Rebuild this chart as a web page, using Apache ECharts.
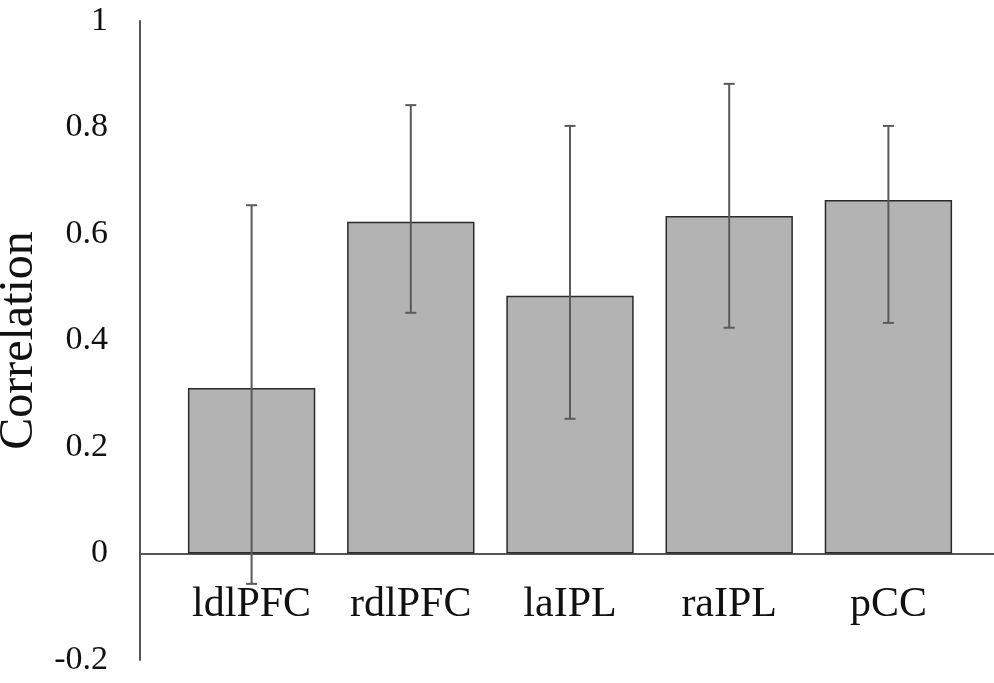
<!DOCTYPE html>
<html>
<head>
<meta charset="utf-8">
<script src="https://cdn.jsdelivr.net/npm/echarts@6/dist/echarts.min.js"></script>
<style>html,body{margin:0;padding:0;background:#fff;}#c{width:994px;height:683px;}</style>
</head>
<body>
<div id="c"></div>
<script>
const categories = ['ldlPFC', 'rdlPFC', 'laIPL', 'raIPL', 'pCC'];
const means = [0.311, 0.623, 0.484, 0.634, 0.664];
const errLow = [-0.057, 0.452, 0.253, 0.424, 0.433];
const errHigh = [0.654, 0.842, 0.803, 0.882, 0.803];
const yTicks = { min: -0.2, max: 1, interval: 0.2 };

const chart = echarts.init(document.getElementById('c'));
const serif = '"Liberation Serif", "DejaVu Serif", serif';
const errData = categories.map((c, i) => [i, errLow[i], errHigh[i]]);

chart.setOption({
  animation: false,
  grid: [
    { left: 140, right: 0, top: 21, bottom: 23, containLabel: false, outerBoundsMode: 'none' },
    { left: 172, right: 26, top: 21, bottom: 129.5, containLabel: false, outerBoundsMode: 'none' }
  ],
  xAxis: [
    { gridIndex: 0, type: 'value', min: 0, max: 1,
      axisLine: { show: true, onZero: true, lineStyle: { color: '#555', width: 2 } },
      axisTick: { show: false }, axisLabel: { show: false }, splitLine: { show: false } },
    { gridIndex: 1, type: 'category', data: categories,
      axisLine: { show: false }, axisTick: { show: false },
      axisLabel: { fontFamily: serif, fontSize: 42, color: '#111', margin: 30 } }
  ],
  yAxis: [
    { gridIndex: 0, type: 'value', min: yTicks.min, max: yTicks.max, interval: yTicks.interval,
      name: 'Correlation', nameLocation: 'middle', nameGap: 86, nameRotate: 90,
      nameTextStyle: { fontFamily: serif, fontSize: 48, color: '#111' },
      axisLine: { show: true, lineStyle: { color: '#555', width: 2 } },
      axisTick: { show: false }, splitLine: { show: false },
      axisLabel: { fontFamily: serif, fontSize: 34, color: '#111', margin: 32, padding: [8, 0, 0, 0] } },
    { gridIndex: 1, type: 'value', min: 0, max: yTicks.max,
      axisLine: { show: false }, axisTick: { show: false }, axisLabel: { show: false },
      splitLine: { show: false } }
  ],
  series: [
    { type: 'bar', xAxisIndex: 1, yAxisIndex: 1, data: means, barCategoryGap: '20%',
      itemStyle: { color: '#b3b3b3', borderColor: '#2a2a2a', borderWidth: 1.5 } },
    { type: 'custom', xAxisIndex: 1, yAxisIndex: 1, data: errData, z: 10, clip: false,
      renderItem: function (params, api) {
        const x = api.value(0);
        const lo = api.coord([x, api.value(1)]);
        const hi = api.coord([x, api.value(2)]);
        const hw = 5.5;
        const st = { stroke: '#5a5a5a', lineWidth: 2 };
        return { type: 'group', children: [
          { type: 'line', shape: { x1: lo[0], y1: lo[1], x2: hi[0], y2: hi[1] }, style: st },
          { type: 'line', shape: { x1: lo[0] - hw, y1: lo[1], x2: lo[0] + hw, y2: lo[1] }, style: st },
          { type: 'line', shape: { x1: hi[0] - hw, y1: hi[1], x2: hi[0] + hw, y2: hi[1] }, style: st }
        ]};
      } }
  ]
});
</script>
</body>
</html>
